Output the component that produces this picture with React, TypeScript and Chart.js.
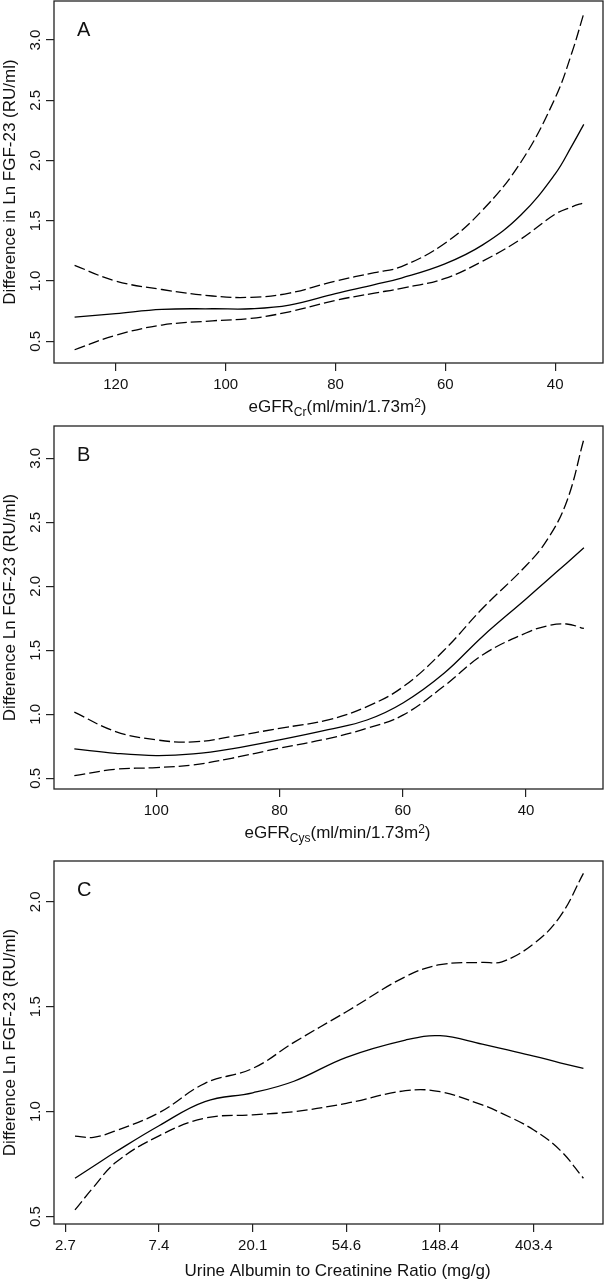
import React, { useEffect, useRef } from "react";
import { Chart, registerables } from "chart.js";

Chart.register(...registerables);

const FONT = '"Liberation Sans", Arial, Helvetica, sans-serif';

// ---------- Panel A: eGFR (creatinine) ----------
const xA = [127.5, 120, 111.6, 102.4, 95.4, 88.4, 80, 72.9, 68, 60.2, 53.2, 46.2, 40, 37, 34.8];
const fitA = [0.70, 0.73, 0.765, 0.77, 0.77, 0.80, 0.895, 0.97, 1.025, 1.14, 1.30, 1.55, 1.89, 2.12, 2.30];
const upperA = [1.13, 1.00, 0.93, 0.876, 0.865, 0.90, 1.0, 1.07, 1.12, 1.31, 1.59, 1.99, 2.52, 2.89, 3.22];
const lowerA = [0.43, 0.55, 0.635, 0.67, 0.69, 0.745, 0.84, 0.90, 0.94, 1.02, 1.165, 1.35, 1.555, 1.615, 1.65];
const xTicksA = [120, 100, 80, 60, 40];

// ---------- Panel B: eGFR (cystatin C) ----------
const xB = [113.3, 106.6, 100, 94, 87.8, 80, 72.1, 65.8, 59.9, 53.3, 47, 40, 36.6, 33.4, 30.6];
const fitB = [0.73, 0.695, 0.677, 0.69, 0.73, 0.80, 0.88, 0.955, 1.09, 1.32, 1.61, 1.90, 2.045, 2.18, 2.30];
const upperB = [1.016, 0.865, 0.80, 0.784, 0.825, 0.89, 0.956, 1.06, 1.216, 1.50, 1.83, 2.16, 2.36, 2.66, 3.15];
const lowerB = [0.52, 0.57, 0.583, 0.604, 0.656, 0.735, 0.81, 0.89, 0.995, 1.22, 1.465, 1.635, 1.69, 1.705, 1.67];
const xTicksB = [100, 80, 60, 40];

// ---------- Panel C: urine ACR (x in ln units) ----------
const xC = [1.103, 1.30, 1.543, 2.0, 2.49, 3.0, 3.44, 4.0, 4.63, 5.0, 5.45, 5.66, 6.0, 6.28, 6.53];
const fitC = [0.683, 0.74, 0.81, 0.933, 1.048, 1.09, 1.145, 1.259, 1.341, 1.362, 1.322, 1.30, 1.265, 1.233, 1.206];
const upperC = [0.884, 0.878, 0.91, 0.995, 1.135, 1.206, 1.33, 1.476, 1.643, 1.70, 1.711, 1.714, 1.80, 1.929, 2.135];
const lowerC = [0.532, 0.64, 0.76, 0.885, 0.969, 0.985, 1.0, 1.04, 1.10, 1.095, 1.032, 0.992, 0.913, 0.817, 0.683];
const xTicksC = [1, 2, 3, 4, 5, 6];
const xTickLabelsC = ["2.7", "7.4", "20.1", "54.6", "148.4", "403.4"];

const yTicksAB = [0.5, 1.0, 1.5, 2.0, 2.5, 3.0];
const yTicksC = [0.5, 1.0, 1.5, 2.0];

const yTitleA = "Difference in Ln FGF-23 (RU/ml)";
const yTitleBC = "Difference Ln FGF-23 (RU/ml)";
const xTitleA = [
  { t: "eGFR" },
  { t: "Cr", sub: true },
  { t: "(ml/min/1.73m" },
  { t: "2", sup: true },
  { t: ")" },
];
const xTitleB = [
  { t: "eGFR" },
  { t: "Cys", sub: true },
  { t: "(ml/min/1.73m" },
  { t: "2", sup: true },
  { t: ")" },
];
const xTitleC = [{ t: "Urine Albumin to Creatinine Ratio (mg/g)" }];

type Seg = { t: string; sub?: boolean; sup?: boolean };

const framePlugin = {
  id: "rframe",
  afterDraw(chart: any, _args: any, opts: any) {
    const { ctx, chartArea: a } = chart;
    ctx.save();
    ctx.strokeStyle = "#222";
    ctx.lineWidth = 1.3;
    ctx.strokeRect(a.left, a.top, a.right - a.left, a.bottom - a.top);
    ctx.fillStyle = "#111";
    ctx.textAlign = "left";
    ctx.textBaseline = "alphabetic";
    ctx.font = `20px ${FONT}`;
    ctx.fillText(opts.letter, a.left + 23, a.top + 34.5);
    const segs: Seg[] = opts.xTitle || [];
    const fontFor = (s: Seg) => `${s.sub || s.sup ? 12 : 17}px ${FONT}`;
    let total = 0;
    for (const s of segs) {
      ctx.font = fontFor(s);
      total += ctx.measureText(s.t).width;
    }
    let x = (a.left + a.right) / 2 + opts.xTitleShift - total / 2;
    const base = a.bottom + opts.xTitleBaseline;
    for (const s of segs) {
      ctx.font = fontFor(s);
      const dy = s.sub ? 4 : s.sup ? -5 : 0;
      ctx.fillText(s.t, x, base + dy);
      x += ctx.measureText(s.t).width;
    }
    ctx.restore();
  },
};

type PanelProps = {
  top: number;
  height: number;
  padTop: number;
  xAxisH: number;
  xs: number[];
  fit: number[];
  upper: number[];
  lower: number[];
  xMin: number;
  xMax: number;
  reverse: boolean;
  yMin: number;
  yMax: number;
  xTicks: number[];
  xLabels?: string[];
  yTicks: number[];
  yTitle: string;
  xTitle: Seg[];
  xTitleBaseline: number;
  letter: string;
};

function Panel(p: PanelProps) {
  const ref = useRef<HTMLCanvasElement | null>(null);
  useEffect(() => {
    if (!ref.current) return;
    const mk = (ys: number[], dashed: boolean) => ({
      data: p.xs.map((x, i) => ({ x, y: ys[i] })),
      borderColor: "#000",
      borderWidth: 1.3,
      borderDash: dashed ? [11, 4] : [],
      pointRadius: 0,
      tension: 0.4,
      fill: false,
    });
    const tickFont = { family: FONT, size: 15 };
    const grid = {
      display: true,
      drawOnChartArea: false,
      drawTicks: true,
      tickLength: 8,
      color: "#222",
      lineWidth: 1.2,
    };
    const chart = new Chart(ref.current, {
      type: "line",
      data: { datasets: [mk(p.upper, true), mk(p.fit, false), mk(p.lower, true)] as any },
      plugins: [framePlugin as any],
      options: {
        animation: false,
        responsive: false,
        maintainAspectRatio: false,
        layout: { padding: { top: p.padTop, right: 2, left: 0, bottom: 0 } },
        plugins: {
          legend: { display: false },
          tooltip: { enabled: false },
          rframe: {
            letter: p.letter,
            xTitle: p.xTitle,
            xTitleShift: 9,
            xTitleBaseline: p.xTitleBaseline,
          },
        } as any,
        scales: {
          x: {
            type: "linear",
            min: p.xMin,
            max: p.xMax,
            reverse: p.reverse,
            bounds: "data",
            afterFit: (s: any) => {
              s.height = p.xAxisH;
              s.paddingLeft = 0;
              s.paddingRight = 0;
            },
            afterBuildTicks: (s: any) => {
              s.ticks = p.xTicks.map((v) => ({ value: v }));
            },
            ticks: {
              autoSkip: false,
              maxRotation: 0,
              minRotation: 0,
              padding: 5,
              font: tickFont,
              color: "#111",
              callback: (v: any, i: number) => (p.xLabels ? p.xLabels[i] : String(v)),
            },
            grid,
            border: { display: false },
          },
          y: {
            type: "linear",
            min: p.yMin,
            max: p.yMax,
            bounds: "data",
            afterFit: (s: any) => {
              s.width = 54;
              s.paddingTop = 0;
              s.paddingBottom = 0;
            },
            afterBuildTicks: (s: any) => {
              s.ticks = p.yTicks.map((v) => ({ value: v }));
            },
            ticks: {
              autoSkip: false,
              minRotation: 90,
              maxRotation: 90,
              crossAlign: "center",
              padding: 0,
              font: tickFont,
              color: "#111",
              callback: (v: any) => Number(v).toFixed(1),
            },
            grid,
            border: { display: false },
            title: {
              display: true,
              text: p.yTitle,
              font: { family: FONT, size: 17 },
              color: "#111",
              padding: { top: 0, bottom: 0 },
            },
          },
        },
      } as any,
    });
    return () => chart.destroy();
  }, []);
  return (
    <canvas
      ref={ref}
      width={605}
      height={p.height}
      style={{ position: "absolute", left: 0, top: p.top, width: 605, height: p.height }}
    />
  );
}

export default function App() {
  return (
    <div
      style={{
        position: "absolute",
        left: 0,
        top: 0,
        width: 605,
        height: 1280,
        background: "#fff",
        overflow: "hidden",
      }}
    >
      <Panel
        top={0}
        height={425}
        padTop={1}
        xAxisH={62}
        xs={xA}
        fit={fitA}
        upper={upperA}
        lower={lowerA}
        xMin={31.3}
        xMax={131.25}
        reverse={true}
        yMin={0.32}
        yMax={3.324}
        xTicks={xTicksA}
        yTicks={yTicksAB}
        yTitle={yTitleA}
        xTitle={xTitleA}
        xTitleBaseline={49}
        letter="A"
      />
      <Panel
        top={425}
        height={430}
        padTop={1}
        xAxisH={66}
        xs={xB}
        fit={fitB}
        upper={upperB}
        lower={lowerB}
        xMin={27.5}
        xMax={116.6}
        reverse={true}
        yMin={0.416}
        yMax={3.252}
        xTicks={xTicksB}
        yTicks={yTicksAB}
        yTitle={yTitleBC}
        xTitle={xTitleB}
        xTitleBaseline={49}
        letter="B"
      />
      <Panel
        top={855}
        height={425}
        padTop={6}
        xAxisH={56}
        xs={xC}
        fit={fitC}
        upper={upperC}
        lower={lowerC}
        xMin={0.879}
        xMax={6.739}
        reverse={false}
        yMin={0.465}
        yMax={2.194}
        xTicks={xTicksC}
        xLabels={xTickLabelsC}
        yTicks={yTicksC}
        yTitle={yTitleBC}
        xTitle={xTitleC}
        xTitleBaseline={52}
        letter="C"
      />
    </div>
  );
}
